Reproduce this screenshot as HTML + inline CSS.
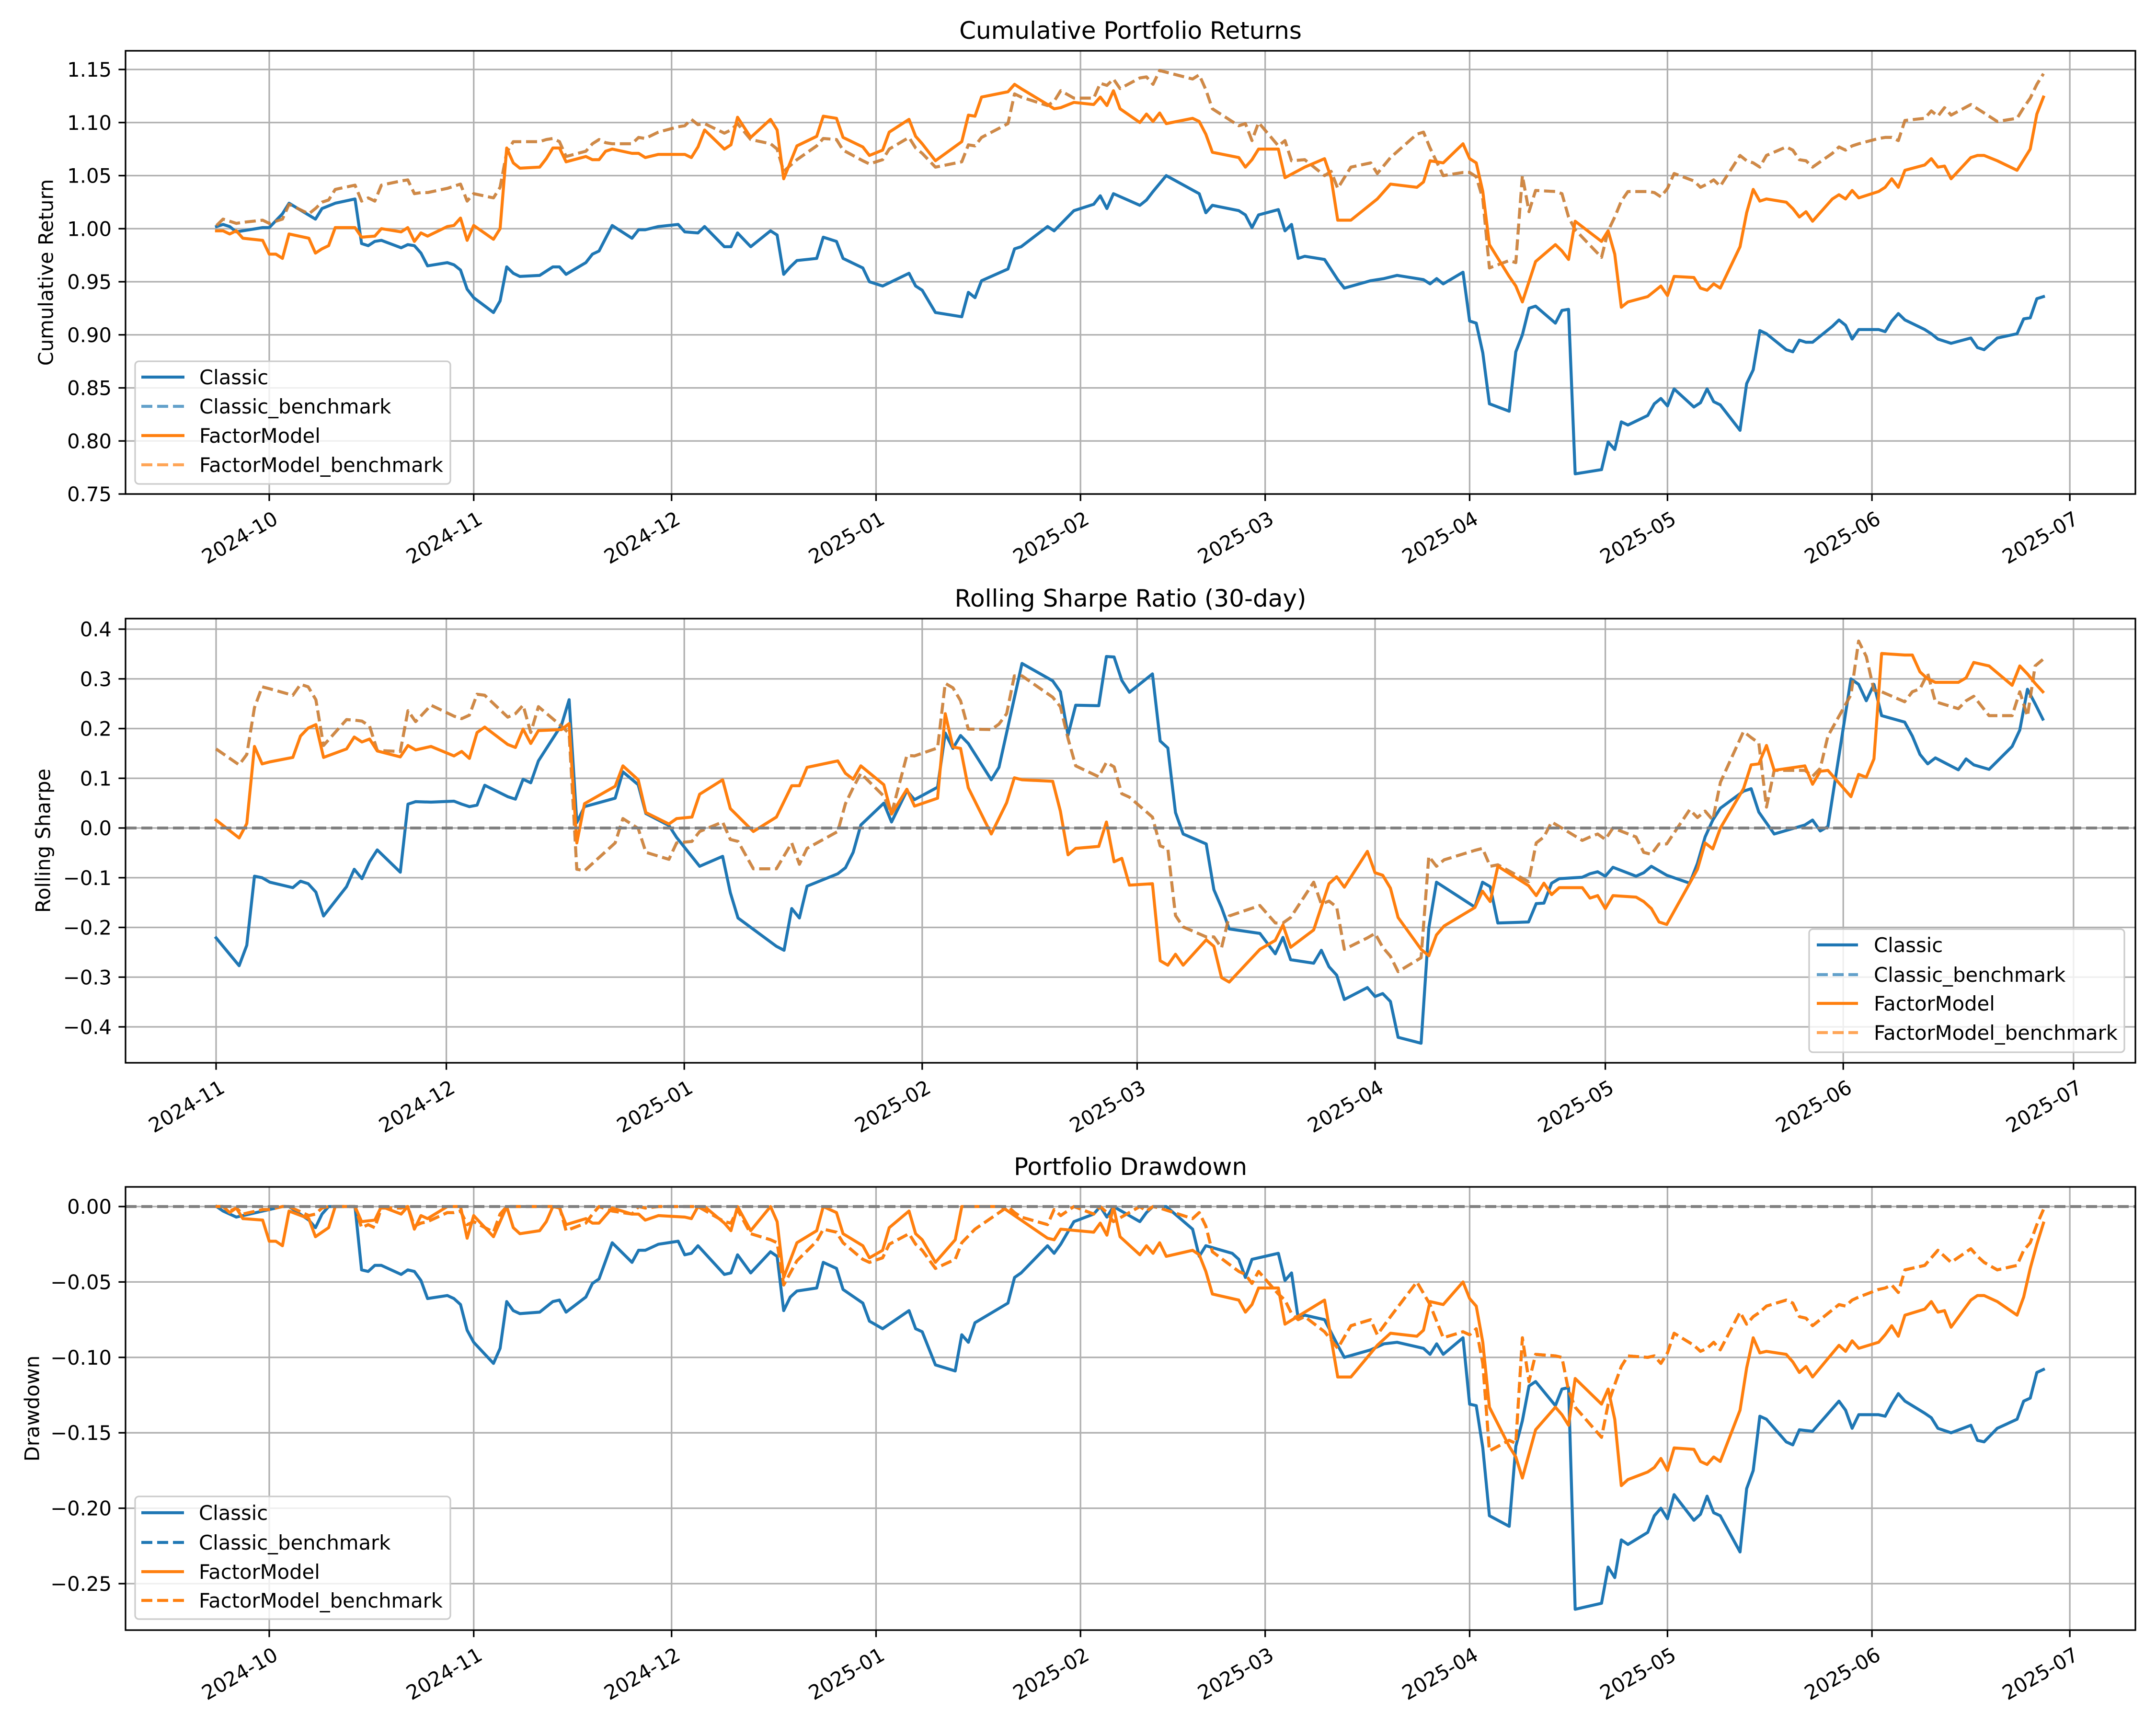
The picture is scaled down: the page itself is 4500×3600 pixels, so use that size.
<!DOCTYPE html>
<html><head><meta charset="utf-8"><style>
html,body{margin:0;padding:0;background:#fff;}
svg{display:block;font-family:"DejaVu Sans","Liberation Sans",sans-serif;}
</style></head><body>
<svg id="fig" xmlns="http://www.w3.org/2000/svg" width="4500" height="3600" viewBox="0 0 4500 3600">
<rect width="4500" height="3600" fill="#fff"/>
</svg>
<script>
// ---------- data ----------
const monthTicksMain = ["2024-10","2024-11","2024-12","2025-01","2025-02","2025-03","2025-04","2025-05","2025-06","2025-07"];
const monthTicksSharpe = ["2024-11","2024-12","2025-01","2025-02","2025-03","2025-04","2025-05","2025-06","2025-07"];
const cumTicks = [0.75,0.80,0.85,0.90,0.95,1.00,1.05,1.10,1.15];
const sharpeTicks = [-0.4,-0.3,-0.2,-0.1,0.0,0.1,0.2,0.3,0.4];
const ddTicks = [-0.25,-0.20,-0.15,-0.10,-0.05,0.00];
const legendLabels = ["Classic","Classic_benchmark","FactorModel","FactorModel_benchmark"];

const cumClassic = [["09-23",1.002],["09-24",1.004],["09-25",1.002],["09-26",0.997],["09-30",1.001],["10-01",1.001],["10-03",1.014],["10-04",1.024],["10-08",1.009],["10-09",1.019],["10-11",1.024],["10-14",1.028],["10-15",0.986],["10-16",0.984],["10-17",0.988],["10-18",0.989],["10-21",0.982],["10-22",0.985],["10-23",0.984],["10-24",0.977],["10-25",0.965],["10-28",0.968],["10-29",0.966],["10-30",0.961],["10-31",0.943],["11-01",0.935],["11-04",0.921],["11-05",0.932],["11-06",0.964],["11-07",0.958],["11-08",0.955],["11-11",0.956],["11-13",0.964],["11-14",0.964],["11-15",0.957],["11-18",0.968],["11-19",0.976],["11-20",0.979],["11-22",1.003],["11-25",0.991],["11-26",0.999],["11-27",0.999],["11-29",1.002],["12-02",1.004],["12-03",0.997],["12-05",0.996],["12-06",1.002],["12-09",0.983],["12-10",0.983],["12-11",0.996],["12-13",0.983],["12-16",0.998],["12-17",0.994],["12-18",0.957],["12-19",0.964],["12-20",0.970],["12-23",0.972],["12-24",0.992],["12-26",0.988],["12-27",0.972],["12-30",0.963],["12-31",0.950],["01-02",0.946],["01-06",0.958],["01-07",0.946],["01-08",0.942],["01-10",0.921],["01-14",0.917],["01-15",0.940],["01-16",0.935],["01-17",0.951],["01-21",0.962],["01-22",0.981],["01-23",0.983],["01-27",1.002],["01-28",0.998],["01-31",1.017],["02-03",1.023],["02-04",1.031],["02-05",1.019],["02-06",1.033],["02-10",1.022],["02-11",1.027],["02-12",1.035],["02-14",1.050],["02-19",1.033],["02-20",1.015],["02-21",1.022],["02-25",1.017],["02-26",1.013],["02-27",1.001],["02-28",1.013],["03-03",1.018],["03-04",0.998],["03-05",1.004],["03-06",0.972],["03-07",0.974],["03-10",0.971],["03-12",0.952],["03-13",0.944],["03-17",0.951],["03-19",0.953],["03-21",0.956],["03-25",0.952],["03-26",0.948],["03-27",0.953],["03-28",0.948],["03-31",0.959],["04-01",0.913],["04-02",0.911],["04-03",0.883],["04-04",0.835],["04-07",0.828],["04-08",0.884],["04-09",0.900],["04-10",0.925],["04-11",0.927],["04-14",0.911],["04-15",0.923],["04-16",0.924],["04-17",0.769],["04-21",0.773],["04-22",0.799],["04-23",0.792],["04-24",0.818],["04-25",0.815],["04-28",0.824],["04-29",0.835],["04-30",0.840],["05-01",0.833],["05-02",0.849],["05-05",0.832],["05-06",0.836],["05-07",0.849],["05-08",0.837],["05-09",0.834],["05-12",0.810],["05-13",0.854],["05-14",0.867],["05-15",0.904],["05-16",0.901],["05-19",0.886],["05-20",0.884],["05-21",0.895],["05-22",0.893],["05-23",0.893],["05-26",0.908],["05-27",0.914],["05-28",0.909],["05-29",0.896],["05-30",0.905],["06-02",0.905],["06-03",0.903],["06-04",0.913],["06-05",0.920],["06-06",0.914],["06-09",0.905],["06-10",0.901],["06-11",0.896],["06-13",0.892],["06-16",0.897],["06-17",0.888],["06-18",0.886],["06-20",0.897],["06-23",0.901],["06-24",0.915],["06-25",0.916],["06-26",0.934],["06-27",0.936]];

const cumFactor = [["09-23",0.998],["09-24",0.998],["09-25",0.995],["09-26",0.998],["09-27",0.991],["09-30",0.989],["10-01",0.976],["10-02",0.976],["10-03",0.972],["10-04",0.995],["10-07",0.991],["10-08",0.977],["10-09",0.981],["10-10",0.984],["10-11",1.001],["10-14",1.001],["10-15",0.992],["10-17",0.993],["10-18",1.000],["10-21",0.997],["10-22",1.001],["10-23",0.988],["10-24",0.996],["10-25",0.993],["10-28",1.002],["10-29",1.003],["10-30",1.010],["10-31",0.989],["11-01",1.003],["11-04",0.990],["11-05",1.000],["11-06",1.076],["11-07",1.062],["11-08",1.057],["11-11",1.058],["11-12",1.066],["11-13",1.076],["11-14",1.076],["11-15",1.063],["11-18",1.068],["11-19",1.065],["11-20",1.065],["11-21",1.073],["11-22",1.075],["11-25",1.071],["11-26",1.071],["11-27",1.067],["11-29",1.070],["12-02",1.070],["12-03",1.070],["12-04",1.067],["12-05",1.077],["12-06",1.093],["12-09",1.075],["12-10",1.079],["12-11",1.105],["12-13",1.086],["12-16",1.103],["12-17",1.093],["12-18",1.047],["12-20",1.078],["12-23",1.087],["12-24",1.106],["12-26",1.104],["12-27",1.086],["12-30",1.077],["12-31",1.069],["01-02",1.074],["01-03",1.091],["01-06",1.103],["01-07",1.087],["01-08",1.080],["01-10",1.064],["01-14",1.082],["01-15",1.107],["01-16",1.106],["01-17",1.124],["01-21",1.129],["01-22",1.136],["01-23",1.132],["01-27",1.117],["01-28",1.113],["01-29",1.114],["01-31",1.119],["02-03",1.117],["02-04",1.124],["02-05",1.116],["02-06",1.130],["02-07",1.113],["02-10",1.100],["02-11",1.108],["02-12",1.101],["02-13",1.109],["02-14",1.099],["02-18",1.104],["02-19",1.101],["02-20",1.089],["02-21",1.072],["02-25",1.067],["02-26",1.058],["02-27",1.065],["02-28",1.075],["03-03",1.075],["03-04",1.048],["03-07",1.058],["03-10",1.066],["03-11",1.048],["03-12",1.008],["03-14",1.008],["03-18",1.028],["03-20",1.042],["03-24",1.039],["03-25",1.044],["03-26",1.064],["03-28",1.062],["03-31",1.080],["04-01",1.066],["04-02",1.062],["04-03",1.035],["04-04",0.985],["04-07",0.955],["04-08",0.946],["04-09",0.931],["04-11",0.969],["04-14",0.985],["04-15",0.979],["04-16",0.971],["04-17",1.007],["04-21",0.988],["04-22",0.998],["04-23",0.976],["04-24",0.926],["04-25",0.931],["04-28",0.936],["04-29",0.941],["04-30",0.946],["05-01",0.937],["05-02",0.955],["05-05",0.954],["05-06",0.944],["05-07",0.942],["05-08",0.948],["05-09",0.944],["05-12",0.983],["05-13",1.015],["05-14",1.037],["05-15",1.026],["05-16",1.028],["05-19",1.025],["05-20",1.019],["05-21",1.011],["05-22",1.016],["05-23",1.007],["05-26",1.028],["05-27",1.032],["05-28",1.028],["05-29",1.036],["05-30",1.029],["06-02",1.035],["06-03",1.039],["06-04",1.047],["06-05",1.039],["06-06",1.055],["06-09",1.060],["06-10",1.066],["06-11",1.058],["06-12",1.059],["06-13",1.047],["06-16",1.067],["06-17",1.069],["06-18",1.069],["06-20",1.064],["06-23",1.055],["06-24",1.065],["06-25",1.075],["06-26",1.108],["06-27",1.124]];

const cumBench = [["09-23",1.003],["09-24",1.009],["09-25",1.007],["09-26",1.005],["09-27",1.006],["09-30",1.008],["10-01",1.005],["10-02",1.007],["10-03",1.009],["10-04",1.023],["10-07",1.014],["10-08",1.019],["10-09",1.025],["10-10",1.027],["10-11",1.037],["10-14",1.041],["10-15",1.026],["10-16",1.029],["10-17",1.026],["10-18",1.041],["10-21",1.045],["10-22",1.046],["10-23",1.033],["10-24",1.034],["10-25",1.034],["10-28",1.038],["10-29",1.040],["10-30",1.042],["10-31",1.026],["11-01",1.033],["11-04",1.029],["11-05",1.039],["11-06",1.072],["11-07",1.082],["11-08",1.082],["11-11",1.082],["11-12",1.084],["11-13",1.085],["11-14",1.082],["11-15",1.068],["11-18",1.073],["11-19",1.080],["11-20",1.084],["11-21",1.081],["11-22",1.080],["11-25",1.080],["11-26",1.086],["11-27",1.085],["11-29",1.091],["12-02",1.096],["12-03",1.097],["12-04",1.103],["12-05",1.098],["12-06",1.099],["12-09",1.090],["12-10",1.093],["12-11",1.099],["12-13",1.084],["12-16",1.080],["12-17",1.075],["12-18",1.054],["12-20",1.065],["12-23",1.078],["12-24",1.085],["12-26",1.084],["12-27",1.074],["12-30",1.064],["12-31",1.061],["01-02",1.065],["01-03",1.075],["01-06",1.086],["01-07",1.076],["01-08",1.071],["01-10",1.058],["01-14",1.063],["01-15",1.079],["01-16",1.078],["01-17",1.086],["01-21",1.099],["01-22",1.127],["01-23",1.124],["01-27",1.116],["01-28",1.120],["01-29",1.130],["01-31",1.123],["02-03",1.123],["02-04",1.137],["02-05",1.135],["02-06",1.141],["02-07",1.132],["02-10",1.142],["02-11",1.143],["02-12",1.136],["02-13",1.149],["02-18",1.141],["02-19",1.145],["02-20",1.131],["02-21",1.113],["02-25",1.097],["02-26",1.099],["02-27",1.083],["02-28",1.100],["03-03",1.078],["03-04",1.083],["03-05",1.064],["03-07",1.065],["03-10",1.050],["03-11",1.054],["03-12",1.038],["03-14",1.058],["03-17",1.062],["03-18",1.052],["03-20",1.067],["03-24",1.089],["03-25",1.091],["03-26",1.076],["03-28",1.050],["03-31",1.053],["04-01",1.053],["04-02",1.049],["04-03",1.028],["04-04",0.963],["04-07",0.970],["04-08",0.968],["04-09",1.050],["04-10",1.016],["04-11",1.036],["04-14",1.035],["04-15",1.033],["04-16",1.011],["04-17",0.999],["04-21",0.973],["04-22",0.998],["04-23",1.011],["04-24",1.026],["04-25",1.035],["04-28",1.035],["04-29",1.034],["04-30",1.030],["05-01",1.038],["05-02",1.052],["05-05",1.045],["05-06",1.039],["05-07",1.042],["05-08",1.046],["05-09",1.040],["05-12",1.069],["05-13",1.064],["05-14",1.062],["05-15",1.058],["05-16",1.069],["05-19",1.077],["05-20",1.074],["05-21",1.065],["05-22",1.064],["05-23",1.058],["05-26",1.071],["05-27",1.077],["05-28",1.074],["05-29",1.078],["05-30",1.080],["06-02",1.085],["06-03",1.086],["06-04",1.086],["06-05",1.083],["06-06",1.102],["06-09",1.104],["06-10",1.111],["06-11",1.106],["06-12",1.114],["06-13",1.107],["06-16",1.117],["06-17",1.113],["06-18",1.109],["06-20",1.101],["06-23",1.104],["06-24",1.114],["06-25",1.123],["06-26",1.136],["06-27",1.146]];

const sharpeClassic = [["11-01",-0.221],["11-04",-0.277],["11-05",-0.236],["11-06",-0.097],["11-07",-0.100],["11-08",-0.109],["11-11",-0.120],["11-12",-0.107],["11-13",-0.112],["11-14",-0.129],["11-15",-0.177],["11-18",-0.118],["11-19",-0.083],["11-20",-0.102],["11-21",-0.068],["11-22",-0.044],["11-25",-0.089],["11-26",0.048],["11-27",0.053],["11-29",0.052],["12-02",0.054],["12-03",0.048],["12-04",0.043],["12-05",0.046],["12-06",0.086],["12-09",0.063],["12-10",0.058],["12-11",0.098],["12-12",0.091],["12-13",0.135],["12-16",0.207],["12-17",0.258],["12-18",0.011],["12-19",0.043],["12-23",0.060],["12-24",0.113],["12-26",0.087],["12-27",0.029],["12-30",0.005],["12-31",-0.019],["01-03",-0.077],["01-06",-0.057],["01-07",-0.130],["01-08",-0.181],["01-13",-0.238],["01-14",-0.246],["01-15",-0.162],["01-16",-0.181],["01-17",-0.117],["01-21",-0.092],["01-22",-0.080],["01-23",-0.049],["01-24",0.006],["01-27",0.050],["01-28",0.012],["01-30",0.075],["01-31",0.057],["02-03",0.082],["02-04",0.191],["02-05",0.160],["02-06",0.186],["02-07",0.170],["02-10",0.097],["02-11",0.122],["02-14",0.331],["02-18",0.296],["02-19",0.274],["02-20",0.187],["02-21",0.247],["02-24",0.246],["02-25",0.345],["02-26",0.344],["02-27",0.297],["02-28",0.273],["03-03",0.310],["03-04",0.175],["03-05",0.161],["03-06",0.031],["03-07",-0.012],["03-10",-0.032],["03-11",-0.124],["03-12",-0.160],["03-13",-0.203],["03-17",-0.212],["03-19",-0.253],["03-20",-0.220],["03-21",-0.265],["03-24",-0.272],["03-25",-0.246],["03-26",-0.279],["03-27",-0.296],["03-28",-0.345],["03-31",-0.321],["04-01",-0.339],["04-02",-0.333],["04-03",-0.349],["04-04",-0.421],["04-07",-0.433],["04-08",-0.201],["04-09",-0.109],["04-14",-0.159],["04-15",-0.109],["04-16",-0.118],["04-17",-0.191],["04-21",-0.189],["04-22",-0.152],["04-23",-0.151],["04-24",-0.111],["04-25",-0.102],["04-28",-0.099],["04-29",-0.092],["04-30",-0.088],["05-01",-0.097],["05-02",-0.079],["05-05",-0.097],["05-06",-0.090],["05-07",-0.077],["05-09",-0.095],["05-12",-0.111],["05-13",-0.071],["05-14",-0.018],["05-15",0.016],["05-16",0.040],["05-19",0.074],["05-20",0.079],["05-21",0.032],["05-23",-0.012],["05-27",0.006],["05-28",0.016],["05-29",-0.006],["05-30",0.003],["06-02",0.300],["06-03",0.289],["06-04",0.256],["06-05",0.289],["06-06",0.226],["06-09",0.213],["06-10",0.185],["06-11",0.148],["06-12",0.129],["06-13",0.141],["06-16",0.117],["06-17",0.139],["06-18",0.127],["06-20",0.118],["06-23",0.164],["06-24",0.197],["06-25",0.279],["06-26",0.250],["06-27",0.219]];

const sharpeFactor = [["11-01",0.016],["11-04",-0.020],["11-05",0.009],["11-06",0.164],["11-07",0.129],["11-08",0.133],["11-11",0.142],["11-12",0.185],["11-13",0.201],["11-14",0.208],["11-15",0.142],["11-18",0.159],["11-19",0.183],["11-20",0.173],["11-21",0.179],["11-22",0.155],["11-25",0.143],["11-26",0.166],["11-27",0.157],["11-29",0.164],["12-02",0.145],["12-03",0.154],["12-04",0.140],["12-05",0.192],["12-06",0.203],["12-09",0.168],["12-10",0.162],["12-11",0.199],["12-12",0.170],["12-13",0.196],["12-16",0.198],["12-17",0.210],["12-18",-0.030],["12-19",0.049],["12-23",0.084],["12-24",0.125],["12-26",0.097],["12-27",0.031],["12-30",0.008],["12-31",0.019],["01-02",0.022],["01-03",0.068],["01-06",0.097],["01-07",0.039],["01-10",-0.007],["01-13",0.022],["01-15",0.085],["01-16",0.085],["01-17",0.122],["01-21",0.135],["01-22",0.110],["01-23",0.098],["01-24",0.125],["01-27",0.087],["01-28",0.028],["01-30",0.078],["01-31",0.044],["02-03",0.060],["02-04",0.230],["02-05",0.163],["02-06",0.160],["02-07",0.081],["02-10",-0.012],["02-12",0.051],["02-13",0.101],["02-14",0.097],["02-18",0.094],["02-19",0.034],["02-20",-0.054],["02-21",-0.041],["02-24",-0.037],["02-25",0.012],["02-26",-0.068],["02-27",-0.061],["02-28",-0.115],["03-03",-0.112],["03-04",-0.267],["03-05",-0.276],["03-06",-0.254],["03-07",-0.276],["03-10",-0.225],["03-11",-0.238],["03-12",-0.301],["03-13",-0.310],["03-17",-0.244],["03-19",-0.226],["03-20",-0.195],["03-21",-0.240],["03-24",-0.205],["03-26",-0.112],["03-27",-0.098],["03-28",-0.119],["03-31",-0.047],["04-01",-0.090],["04-02",-0.095],["04-03",-0.121],["04-04",-0.180],["04-07",-0.244],["04-08",-0.257],["04-09",-0.215],["04-10",-0.197],["04-14",-0.160],["04-15",-0.127],["04-16",-0.148],["04-17",-0.077],["04-21",-0.116],["04-22",-0.136],["04-23",-0.111],["04-24",-0.134],["04-25",-0.120],["04-28",-0.120],["04-29",-0.141],["04-30",-0.136],["05-01",-0.162],["05-02",-0.136],["05-05",-0.139],["05-06",-0.148],["05-07",-0.162],["05-08",-0.189],["05-09",-0.194],["05-12",-0.111],["05-13",-0.083],["05-14",-0.030],["05-15",-0.042],["05-16",0.000],["05-19",0.079],["05-20",0.127],["05-21",0.129],["05-22",0.166],["05-23",0.116],["05-27",0.125],["05-28",0.088],["05-29",0.114],["05-30",0.116],["06-02",0.063],["06-03",0.108],["06-04",0.102],["06-05",0.139],["06-06",0.351],["06-09",0.348],["06-10",0.348],["06-11",0.314],["06-12",0.300],["06-13",0.293],["06-16",0.293],["06-17",0.302],["06-18",0.333],["06-20",0.326],["06-23",0.287],["06-24",0.326],["06-25",0.310],["06-26",0.291],["06-27",0.274]];

const sharpeBench = [["11-01",0.159],["11-04",0.127],["11-05",0.148],["11-06",0.242],["11-07",0.284],["11-08",0.280],["11-11",0.267],["11-12",0.289],["11-13",0.284],["11-14",0.258],["11-15",0.166],["11-18",0.218],["11-19",0.217],["11-20",0.215],["11-21",0.205],["11-22",0.156],["11-25",0.154],["11-26",0.236],["11-27",0.214],["11-29",0.247],["12-02",0.225],["12-03",0.220],["12-04",0.227],["12-05",0.269],["12-06",0.267],["12-09",0.223],["12-10",0.230],["12-11",0.247],["12-12",0.192],["12-13",0.244],["12-16",0.205],["12-17",0.190],["12-18",-0.083],["12-19",-0.086],["12-23",-0.030],["12-24",0.019],["12-26",-0.001],["12-27",-0.049],["12-30",-0.063],["12-31",-0.030],["01-02",-0.027],["01-03",-0.007],["01-06",0.012],["01-07",-0.023],["01-08",-0.027],["01-10",-0.082],["01-13",-0.082],["01-15",-0.030],["01-16",-0.073],["01-17",-0.041],["01-21",-0.007],["01-22",0.049],["01-23",0.081],["01-24",0.110],["01-27",0.064],["01-28",0.029],["01-30",0.146],["01-31",0.145],["02-03",0.161],["02-04",0.291],["02-05",0.282],["02-06",0.256],["02-07",0.199],["02-10",0.198],["02-11",0.209],["02-12",0.230],["02-13",0.306],["02-14",0.306],["02-18",0.263],["02-19",0.244],["02-20",0.180],["02-21",0.125],["02-24",0.103],["02-25",0.132],["02-26",0.123],["02-27",0.069],["02-28",0.062],["03-03",0.022],["03-04",-0.036],["03-05",-0.042],["03-06",-0.176],["03-07",-0.199],["03-10",-0.219],["03-11",-0.219],["03-12",-0.241],["03-13",-0.177],["03-17",-0.156],["03-19",-0.191],["03-20",-0.191],["03-21",-0.180],["03-24",-0.109],["03-25",-0.153],["03-26",-0.147],["03-27",-0.159],["03-28",-0.244],["03-31",-0.221],["04-01",-0.212],["04-02",-0.240],["04-03",-0.258],["04-04",-0.289],["04-07",-0.261],["04-08",-0.057],["04-09",-0.077],["04-10",-0.064],["04-14",-0.045],["04-15",-0.041],["04-16",-0.077],["04-17",-0.074],["04-21",-0.108],["04-22",-0.030],["04-23",-0.018],["04-24",0.012],["04-25",0.003],["04-28",-0.025],["04-29",-0.018],["04-30",-0.012],["05-01",-0.023],["05-02",0.000],["05-05",-0.018],["05-06",-0.049],["05-07",-0.053],["05-08",-0.032],["05-09",-0.032],["05-12",0.037],["05-13",0.021],["05-14",0.034],["05-15",0.016],["05-16",0.092],["05-19",0.194],["05-20",0.182],["05-21",0.171],["05-22",0.042],["05-23",0.116],["05-27",0.116],["05-28",0.104],["05-29",0.120],["05-30",0.185],["06-02",0.268],["06-03",0.376],["06-04",0.345],["06-05",0.277],["06-06",0.274],["06-09",0.254],["06-10",0.274],["06-11",0.280],["06-12",0.311],["06-13",0.254],["06-16",0.240],["06-17",0.256],["06-18",0.265],["06-20",0.226],["06-23",0.226],["06-24",0.274],["06-25",0.225],["06-26",0.326],["06-27",0.339]];

const ddClassic = [["09-23",0],["09-24",-0.003],["09-26",-0.007],["09-27",-0.006],["10-01",-0.002],["10-03",0],["10-04",0],["10-07",-0.009],["10-08",-0.014],["10-09",-0.005],["10-10",0],["10-14",0],["10-15",-0.042],["10-16",-0.043],["10-17",-0.039],["10-18",-0.039],["10-21",-0.045],["10-22",-0.042],["10-23",-0.043],["10-24",-0.049],["10-25",-0.061],["10-28",-0.059],["10-29",-0.061],["10-30",-0.065],["10-31",-0.082],["11-01",-0.090],["11-04",-0.104],["11-05",-0.094],["11-06",-0.063],["11-07",-0.069],["11-08",-0.071],["11-11",-0.070],["11-13",-0.063],["11-14",-0.062],["11-15",-0.070],["11-18",-0.060],["11-19",-0.051],["11-20",-0.048],["11-22",-0.024],["11-25",-0.037],["11-26",-0.029],["11-27",-0.029],["11-29",-0.025],["12-02",-0.023],["12-03",-0.032],["12-04",-0.031],["12-05",-0.026],["12-09",-0.045],["12-10",-0.044],["12-11",-0.032],["12-13",-0.044],["12-16",-0.030],["12-17",-0.033],["12-18",-0.069],["12-19",-0.060],["12-20",-0.056],["12-23",-0.054],["12-24",-0.037],["12-26",-0.041],["12-27",-0.055],["12-30",-0.064],["12-31",-0.076],["01-02",-0.081],["01-06",-0.069],["01-07",-0.081],["01-08",-0.083],["01-10",-0.105],["01-13",-0.109],["01-14",-0.085],["01-15",-0.090],["01-16",-0.077],["01-21",-0.064],["01-22",-0.047],["01-23",-0.044],["01-27",-0.026],["01-28",-0.031],["01-29",-0.025],["01-31",-0.010],["02-03",-0.005],["02-04",0],["02-05",-0.007],["02-06",0],["02-10",-0.010],["02-11",-0.004],["02-12",0],["02-14",0],["02-18",-0.015],["02-19",-0.033],["02-20",-0.026],["02-24",-0.031],["02-25",-0.035],["02-26",-0.047],["02-27",-0.035],["03-03",-0.031],["03-04",-0.049],["03-05",-0.044],["03-06",-0.074],["03-07",-0.072],["03-10",-0.075],["03-12",-0.092],["03-13",-0.100],["03-17",-0.095],["03-19",-0.091],["03-21",-0.090],["03-25",-0.094],["03-26",-0.098],["03-27",-0.091],["03-28",-0.098],["03-31",-0.087],["04-01",-0.131],["04-02",-0.132],["04-03",-0.160],["04-04",-0.205],["04-07",-0.212],["04-08",-0.159],["04-09",-0.142],["04-10",-0.119],["04-11",-0.116],["04-14",-0.132],["04-15",-0.121],["04-16",-0.120],["04-17",-0.267],["04-21",-0.263],["04-22",-0.239],["04-23",-0.246],["04-24",-0.221],["04-25",-0.224],["04-28",-0.216],["04-29",-0.205],["04-30",-0.200],["05-01",-0.207],["05-02",-0.191],["05-05",-0.208],["05-06",-0.204],["05-07",-0.192],["05-08",-0.203],["05-09",-0.205],["05-12",-0.229],["05-13",-0.187],["05-14",-0.175],["05-15",-0.139],["05-16",-0.141],["05-19",-0.156],["05-20",-0.158],["05-21",-0.148],["05-23",-0.149],["05-27",-0.129],["05-28",-0.135],["05-29",-0.147],["05-30",-0.138],["06-02",-0.138],["06-03",-0.139],["06-04",-0.131],["06-05",-0.124],["06-06",-0.129],["06-09",-0.137],["06-10",-0.140],["06-11",-0.147],["06-13",-0.150],["06-16",-0.145],["06-17",-0.155],["06-18",-0.156],["06-20",-0.147],["06-23",-0.141],["06-24",-0.129],["06-25",-0.127],["06-26",-0.110],["06-27",-0.108]];

const ddFactor = [["09-23",0],["09-24",0],["09-25",-0.004],["09-26",-0.001],["09-27",-0.008],["09-30",-0.009],["10-01",-0.023],["10-02",-0.023],["10-03",-0.026],["10-04",-0.003],["10-07",-0.008],["10-08",-0.020],["10-09",-0.017],["10-10",-0.014],["10-11",0],["10-14",0],["10-15",-0.010],["10-17",-0.009],["10-18",0],["10-21",-0.005],["10-22",0],["10-23",-0.015],["10-24",-0.006],["10-25",-0.008],["10-28",0],["10-30",0],["10-31",-0.021],["11-01",-0.006],["11-04",-0.020],["11-05",-0.010],["11-06",0],["11-07",-0.014],["11-08",-0.018],["11-11",-0.016],["11-12",-0.010],["11-13",0],["11-14",-0.001],["11-15",-0.012],["11-18",-0.008],["11-19",-0.011],["11-20",-0.011],["11-22",-0.001],["11-25",-0.005],["11-26",-0.005],["11-27",-0.009],["11-29",-0.006],["12-03",-0.007],["12-04",-0.008],["12-05",0],["12-06",0],["12-09",-0.011],["12-10",-0.016],["12-11",0],["12-13",-0.016],["12-16",0],["12-17",-0.010],["12-18",-0.047],["12-20",-0.024],["12-23",-0.016],["12-24",0],["12-26",-0.004],["12-27",-0.018],["12-30",-0.026],["12-31",-0.034],["01-02",-0.029],["01-03",-0.014],["01-06",-0.003],["01-07",-0.018],["01-08",-0.022],["01-10",-0.037],["01-13",-0.022],["01-14",0],["01-20",0],["01-22",-0.006],["01-27",-0.021],["01-28",-0.022],["01-29",-0.015],["02-03",-0.017],["02-04",-0.011],["02-05",-0.019],["02-06",0],["02-07",-0.020],["02-10",-0.032],["02-11",-0.026],["02-12",-0.031],["02-13",-0.024],["02-14",-0.033],["02-18",-0.029],["02-19",-0.032],["02-20",-0.043],["02-21",-0.058],["02-25",-0.062],["02-26",-0.070],["02-27",-0.065],["02-28",-0.054],["03-03",-0.054],["03-04",-0.078],["03-07",-0.070],["03-10",-0.062],["03-12",-0.113],["03-14",-0.113],["03-18",-0.092],["03-20",-0.084],["03-24",-0.086],["03-25",-0.082],["03-26",-0.063],["03-28",-0.065],["03-31",-0.050],["04-01",-0.061],["04-02",-0.066],["04-03",-0.090],["04-04",-0.133],["04-07",-0.159],["04-08",-0.166],["04-09",-0.180],["04-11",-0.148],["04-14",-0.133],["04-15",-0.138],["04-16",-0.145],["04-17",-0.114],["04-21",-0.131],["04-22",-0.121],["04-23",-0.141],["04-24",-0.185],["04-25",-0.181],["04-28",-0.176],["04-29",-0.173],["04-30",-0.167],["05-01",-0.175],["05-02",-0.160],["05-05",-0.161],["05-06",-0.169],["05-07",-0.171],["05-08",-0.166],["05-09",-0.169],["05-12",-0.135],["05-13",-0.107],["05-14",-0.087],["05-15",-0.097],["05-16",-0.096],["05-19",-0.098],["05-20",-0.103],["05-21",-0.110],["05-22",-0.106],["05-23",-0.113],["05-27",-0.092],["05-28",-0.096],["05-29",-0.089],["05-30",-0.094],["06-02",-0.090],["06-03",-0.085],["06-04",-0.079],["06-05",-0.086],["06-06",-0.072],["06-09",-0.068],["06-10",-0.063],["06-11",-0.070],["06-12",-0.069],["06-13",-0.080],["06-16",-0.062],["06-17",-0.059],["06-18",-0.059],["06-20",-0.063],["06-23",-0.072],["06-24",-0.060],["06-25",-0.041],["06-26",-0.025],["06-27",-0.011]];

const ddBench = [["09-23",0],["09-24",0],["09-25",-0.003],["09-26",-0.001],["09-27",-0.005],["09-30",-0.002],["10-01",-0.002],["10-03",0],["10-04",0],["10-07",-0.006],["10-08",-0.005],["10-09",-0.001],["10-10",0],["10-14",0],["10-15",-0.014],["10-16",-0.012],["10-17",-0.014],["10-18",-0.001],["10-21",-0.001],["10-22",0],["10-23",-0.013],["10-24",-0.011],["10-25",-0.010],["10-28",-0.004],["10-29",-0.004],["10-30",-0.003],["10-31",-0.012],["11-01",-0.010],["11-04",-0.017],["11-05",-0.005],["11-06",0],["11-14",0],["11-15",-0.016],["11-18",-0.011],["11-19",-0.005],["11-20",0],["11-22",-0.003],["11-25",-0.005],["11-26",0],["11-27",-0.001],["11-29",0],["12-05",0],["12-09",-0.010],["12-10",-0.011],["12-11",-0.002],["12-13",-0.018],["12-16",-0.022],["12-17",-0.024],["12-18",-0.052],["12-20",-0.036],["12-23",-0.023],["12-24",-0.015],["12-26",-0.017],["12-27",-0.024],["12-30",-0.035],["12-31",-0.037],["01-02",-0.034],["01-03",-0.025],["01-06",-0.018],["01-07",-0.025],["01-08",-0.029],["01-10",-0.041],["01-13",-0.035],["01-14",-0.024],["01-16",-0.015],["01-21",0],["01-22",-0.004],["01-23",-0.007],["01-27",-0.012],["01-28",-0.002],["01-29",-0.006],["01-31",0],["02-03",-0.005],["02-04",0],["02-05",-0.004],["02-06",-0.010],["02-10",0],["02-11",-0.003],["02-12",0],["02-13",-0.001],["02-18",-0.008],["02-19",-0.004],["02-20",-0.013],["02-21",-0.030],["02-25",-0.043],["02-26",-0.045],["02-27",-0.051],["02-28",-0.043],["03-03",-0.058],["03-04",-0.062],["03-05",-0.071],["03-06",-0.075],["03-07",-0.073],["03-10",-0.083],["03-12",-0.094],["03-14",-0.079],["03-17",-0.075],["03-18",-0.085],["03-20",-0.073],["03-24",-0.050],["03-26",-0.065],["03-28",-0.087],["03-31",-0.083],["04-01",-0.085],["04-02",-0.081],["04-03",-0.104],["04-04",-0.162],["04-07",-0.155],["04-08",-0.157],["04-09",-0.087],["04-10",-0.116],["04-11",-0.098],["04-14",-0.099],["04-15",-0.100],["04-16",-0.122],["04-17",-0.133],["04-21",-0.153],["04-22",-0.131],["04-23",-0.118],["04-24",-0.106],["04-25",-0.099],["04-28",-0.100],["04-29",-0.099],["04-30",-0.104],["05-01",-0.097],["05-02",-0.084],["05-05",-0.092],["05-06",-0.096],["05-07",-0.094],["05-08",-0.090],["05-09",-0.095],["05-12",-0.070],["05-13",-0.078],["05-14",-0.073],["05-15",-0.070],["05-16",-0.066],["05-19",-0.062],["05-20",-0.064],["05-21",-0.073],["05-22",-0.074],["05-23",-0.079],["05-27",-0.065],["05-28",-0.066],["05-29",-0.062],["05-30",-0.060],["06-02",-0.055],["06-03",-0.054],["06-04",-0.052],["06-05",-0.057],["06-06",-0.042],["06-09",-0.039],["06-10",-0.034],["06-11",-0.029],["06-12",-0.033],["06-13",-0.037],["06-16",-0.028],["06-17",-0.033],["06-18",-0.037],["06-20",-0.042],["06-23",-0.039],["06-24",-0.029],["06-25",-0.024],["06-26",-0.012],["06-27",-0.002]];

// ---------- rendering ----------
const NS = 'http://www.w3.org/2000/svg';
const svg = document.getElementById('fig');
const DAY = 86400000;
const BLUE = '#1f77b4', ORANGE = '#ff7f0e';
function mk(tag, parent) { const e = document.createElementNS(NS, tag); parent.appendChild(e); return e; }
function attrs(e, o) { for (const k in o) e.setAttribute(k, o[k]); return e; }
function md2t(md) { const p = md.split('-').map(Number); const y = p[0] >= 9 ? 2024 : 2025; return Date.UTC(y, p[0] - 1, p[1]); }
function ym2t(ym) { const p = ym.split('-').map(Number); return Date.UTC(p[0], p[1] - 1, 1); }

function makeX(refT, refPx, ppd) { return t => refPx + (t - refT) / DAY * ppd; }
function makeY(v0, px0, pxPerUnit) { return v => px0 + (v0 - v) * pxPerUnit; }

const L = 262, R = 4457;
const panels = [
  { key: 'cumulative', top: 106, bot: 1031, title: 'Cumulative Portfolio Returns', ylabel: 'Cumulative Return', ylabelX: 96,
    x: makeX(Date.UTC(2024, 9, 1), 562, 13.766), y: makeY(1.15, 145, 2215), ticks: cumTicks, dec: 2, months: monthTicksMain,
    series: [cumClassic, cumBench, cumFactor, cumBench], benchAlpha: 0.7, zero: false,
    legend: { x: 282, y: 754, w: 658, h: 256, rows: [787, 848, 909, 970], hx0: 295, hx1: 385, tx: 416 } },
  { key: 'sharpe', top: 1291, bot: 2218, title: 'Rolling Sharpe Ratio (30-day)', ylabel: 'Rolling Sharpe', ylabelX: 90,
    x: makeX(Date.UTC(2024, 10, 1), 451, 16.02), y: makeY(0, 1728, 1037.5), ticks: sharpeTicks, dec: 1, months: monthTicksSharpe,
    series: [sharpeClassic, sharpeBench, sharpeFactor, sharpeBench], benchAlpha: 0.7, zero: true,
    legend: { x: 3776, y: 1939, w: 658, h: 257, rows: [1972, 2034, 2094, 2155], hx0: 3792, hx1: 3878, tx: 3911 } },
  { key: 'drawdown', top: 2477, bot: 3402, title: 'Portfolio Drawdown', ylabel: 'Drawdown', ylabelX: 67,
    x: makeX(Date.UTC(2024, 9, 1), 562, 13.766), y: makeY(0, 2518, 3148), ticks: ddTicks, dec: 2, months: monthTicksMain,
    series: [ddClassic, ddBench, ddFactor, ddBench], benchAlpha: 1, zero: true,
    legend: { x: 282, y: 3123, w: 658, h: 256, rows: [3157, 3219, 3280, 3340], hx0: 295, hx1: 384, tx: 415 } }
];
const seriesColors = [BLUE, BLUE, ORANGE, ORANGE];
const seriesDash = [false, true, false, true];
const seriesNames = ['classic-line', 'classic-benchmark-line', 'factormodel-line', 'factormodel-benchmark-line'];

function fmt(v, d) { const s = Math.abs(v).toFixed(d); return (v < -1e-9 ? '\u2212' : '') + s; }

panels.forEach((P, pi) => {
  const g = mk('g', svg);
  
  

  const cp = mk('clipPath', g); cp.id = 'clip' + pi;
  attrs(mk('rect', cp), { x: L, y: P.top, width: R - L, height: P.bot - P.top });

  // grid lines
  const grid = mk('g', g);
  
  
  P.months.forEach(m => {
    const xx = P.x(ym2t(m));
    const ln = mk('line', grid);
    attrs(ln, { x1: xx, x2: xx, y1: P.top, y2: P.bot, stroke: '#b0b0b0', 'stroke-width': 3.3 });
    
    
  });
  P.ticks.forEach(v => {
    const yy = P.y(v);
    const ln = mk('line', grid);
    attrs(ln, { x1: L, x2: R, y1: yy, y2: yy, stroke: '#b0b0b0', 'stroke-width': 3.3 });
    
    
  });

  // series
  const sg = mk('g', g);
  sg.setAttribute('clip-path', 'url(#clip' + pi + ')');
  P.series.forEach((data, si) => {
    const pts = data.map(d => P.x(md2t(d[0])).toFixed(1) + ',' + P.y(d[1]).toFixed(1)).join(' ');
    const pl = mk('polyline', sg);
    attrs(pl, { points: pts, fill: 'none', stroke: seriesColors[si], 'stroke-width': 6.25, 'stroke-linejoin': 'round', 'stroke-linecap': seriesDash[si] ? 'butt' : 'square' });
    if (seriesDash[si]) { pl.setAttribute('stroke-dasharray', '23 10'); pl.setAttribute('stroke-opacity', P.benchAlpha); }
    
    
  });
  if (P.zero) {
    const zl = mk('line', sg);
    attrs(zl, { x1: L, x2: R, y1: P.y(0), y2: P.y(0), stroke: '#808080', 'stroke-width': 6, 'stroke-dasharray': '23 10' });
    
    
  }

  // frame
  const fr = mk('rect', g);
  attrs(fr, { x: L, y: P.top, width: R - L, height: P.bot - P.top, fill: 'none', stroke: '#000', 'stroke-width': 3.3 });
  
  

  // y ticks
  P.ticks.forEach(v => {
    const yy = P.y(v);
    const tk = mk('line', g);
    attrs(tk, { x1: L - 14.6, x2: L, y1: yy, y2: yy, stroke: '#000', 'stroke-width': 3.3 });
    
    
    const tx = mk('text', g);
    attrs(tx, { x: L - 29, y: yy + 15, 'text-anchor': 'end', 'font-size': 41.7, fill: '#000' });
    tx.textContent = fmt(v, P.dec);
    
    
  });
  // x ticks
  P.months.forEach(m => {
    const xx = P.x(ym2t(m));
    const tk = mk('line', g);
    attrs(tk, { x1: xx, x2: xx, y1: P.bot, y2: P.bot + 14.6, stroke: '#000', 'stroke-width': 3.3 });
    
    
    const tx = mk('text', g);
    const ax = xx + 6, ay = P.bot + 34;
    attrs(tx, { x: ax, y: ay, 'text-anchor': 'end', 'font-size': 41.7, fill: '#000', transform: 'rotate(-30 ' + ax + ' ' + ay + ') translate(0 30)' });
    tx.textContent = m;
    
    
  });

  // title & ylabel
  const tt = mk('text', g);
  attrs(tt, { x: (L + R) / 2, y: P.top - 25, 'text-anchor': 'middle', 'font-size': 50, fill: '#000' });
  tt.textContent = P.title;
  
  
  const yl = mk('text', g);
  const cy = (P.top + P.bot) / 2;
  attrs(yl, { x: P.ylabelX, y: cy, 'text-anchor': 'middle', 'dominant-baseline': 'central', 'font-size': 41.7, fill: '#000', transform: 'rotate(-90 ' + P.ylabelX + ' ' + cy + ')' });
  yl.textContent = P.ylabel;
  
  

  // legend
  const Lg = P.legend;
  const lg = mk('g', g);
  
  
  const box = mk('rect', lg);
  attrs(box, { x: Lg.x, y: Lg.y, width: Lg.w, height: Lg.h, rx: 8, fill: '#fff', 'fill-opacity': 0.8, stroke: '#cccccc', 'stroke-width': 3.3 });
  
  
  legendLabels.forEach((lab, i) => {
    const ry = Lg.rows[i];
    const h = mk('line', lg);
    attrs(h, { x1: Lg.hx0, x2: Lg.hx1, y1: ry, y2: ry, stroke: seriesColors[i], 'stroke-width': 6.25 });
    if (seriesDash[i]) { h.setAttribute('stroke-dasharray', '23 10'); h.setAttribute('stroke-opacity', P.benchAlpha); }
    
    
    const t = mk('text', lg);
    attrs(t, { x: Lg.tx, y: ry + 15, 'font-size': 41.7, fill: '#000' });
    t.textContent = lab;
    
    
  });
});
</script>
</body></html>
